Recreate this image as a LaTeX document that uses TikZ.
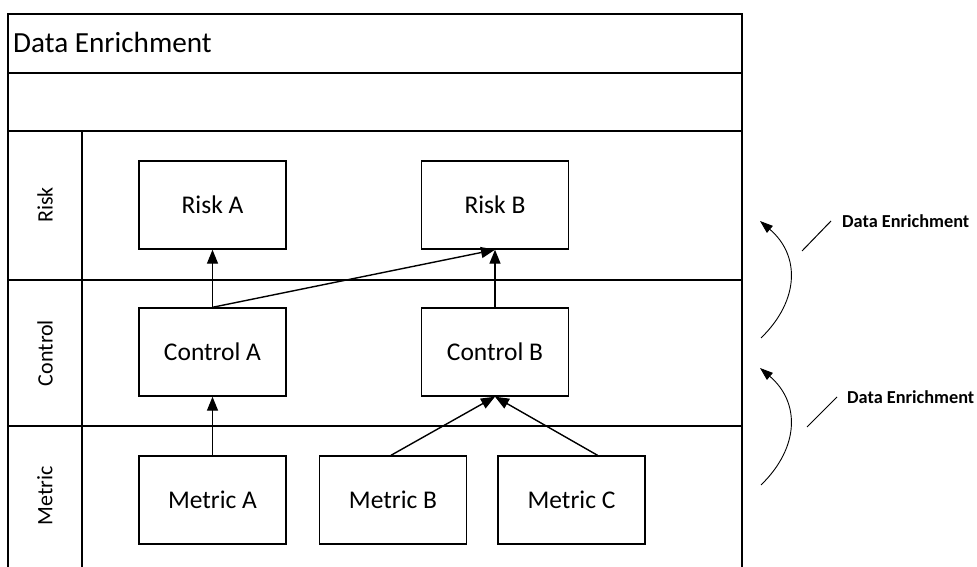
\documentclass[tikz,border=0pt]{standalone}
\usepackage{fontspec}
\setmainfont{Carlito}
\usetikzlibrary{arrows.meta}
\tikzset{
  frame/.style={draw=black, line width=1.5pt},
  box/.style={draw=black, line width=1.4pt, minimum width=147pt, minimum height=88pt, inner sep=0pt, font=\fontsize{25.5}{30}\selectfont},
  lanelabel/.style={rotate=90, font=\fontsize{22}{26}\selectfont, inner sep=0pt},
  flow/.style={line width=1.4pt, -{Triangle[length=14pt,width=11pt]}},
  arcarrow/.style={line width=0.9pt, -{Triangle[length=13pt,width=9pt]}},
  note/.style={font=\bfseries\fontsize{18.3}{22}\selectfont, inner sep=0pt, anchor=base west},
  leader/.style={line width=1pt}
}
\begin{document}
\begin{tikzpicture}[x=1pt,y=-1pt]
\useasboundingbox (0,0) rectangle (977,567);
% pool frame
\draw[frame] (8,569) -- (8,14) -- (742,14) -- (742,569);
\draw[frame] (8,73) -- (742,73);
\draw[frame] (8,131) -- (742,131);
\draw[frame] (8,280) -- (742,280);
\draw[frame] (8,426) -- (742,426);
\draw[frame] (82,131) -- (82,569);
\node[inner sep=0pt, anchor=base west, font=\fontsize{29.2}{34}\selectfont] (title) at (13,53) {Data Enrichment};
% lane labels
\node[lanelabel] (lrisk) at (45,205) {Risk};
\node[lanelabel] (lcontrol) at (45,353) {Control};
\node[lanelabel] (lmetric) at (45,496) {Metric};
% boxes
\node[box] (riskA) at (212.5,205) {Risk A};
\node[box] (riskB) at (495,205) {Risk B};
\node[box] (ctrlA) at (212.5,352) {Control A};
\node[box] (ctrlB) at (495,352) {Control B};
\node[box] (metA) at (212.5,500) {Metric A};
\node[box] (metB) at (393,500) {Metric B};
\node[box] (metC) at (571.5,500) {Metric C};
% connectors
\draw[flow] (ctrlA.north) -- (riskA.south);
\draw[flow] (ctrlA.north) -- (riskB.south);
\draw[flow] (ctrlB.north) -- (riskB.south);
\draw[flow] (metA.north) -- (ctrlA.south);
\draw[flow] ([xshift=-2pt]metB.north) -- (ctrlB.south);
\draw[flow] ([xshift=26pt]metC.north) -- (ctrlB.south);
% side annotations
\coordinate (a1s) at (761,338);
\coordinate (a1e) at (760,221);
\coordinate (a2s) at (761,485);
\coordinate (a2e) at (760,368);
\draw[arcarrow] (a1s) .. controls (800,300) and (800,255) .. (a1e);
\draw[arcarrow] (a2s) .. controls (800,447) and (800,402) .. (a2e);
\node[note] (n1) at (842,227) {Data Enrichment};
\node[note] (n2) at (847,403) {Data Enrichment};
\coordinate (l1a) at (802,251);
\coordinate (l1b) at (831,221);
\coordinate (l2a) at (807,427);
\coordinate (l2b) at (837,397);
\draw[leader] (l1a) -- (l1b);
\draw[leader] (l2a) -- (l2b);
\end{tikzpicture}
\end{document}
